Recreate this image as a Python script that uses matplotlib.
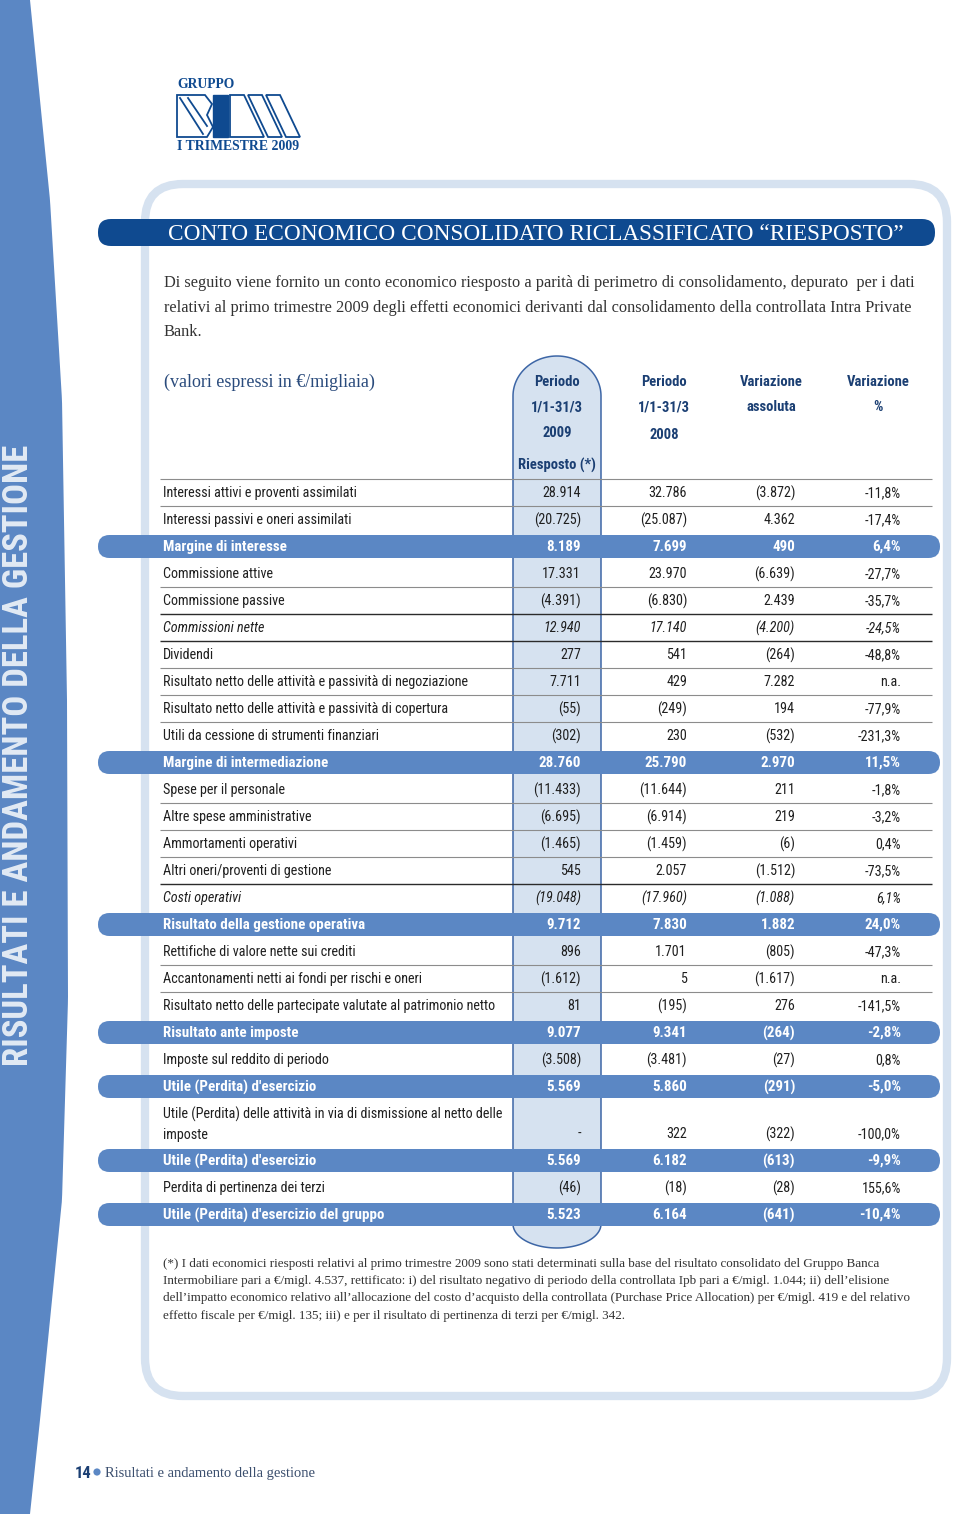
import numpy as np
import matplotlib.pyplot as plt
from matplotlib import font_manager
from matplotlib.patches import FancyBboxPatch, Polygon, Rectangle, Circle

# ---- table data (values in €/migliaia) ----
labels = [
    "Interessi attivi e proventi assimilati",
    "Interessi passivi e oneri assimilati",
    "Margine di interesse",
    "Commissione attive",
    "Commissione passive",
    "Commissioni nette",
    "Dividendi",
    "Risultato netto delle attività e passività di negoziazione",
    "Risultato netto delle attività e passività di copertura",
    "Utili da cessione di strumenti finanziari",
    "Margine di intermediazione",
    "Spese per il personale",
    "Altre spese amministrative",
    "Ammortamenti operativi",
    "Altri oneri/proventi di gestione",
    "Costi operativi",
    "Risultato della gestione operativa",
    "Rettifiche di valore nette sui crediti",
    "Accantonamenti netti ai fondi per rischi e oneri",
    "Risultato netto delle partecipate valutate al patrimonio netto",
    "Risultato ante imposte",
    "Imposte sul reddito di periodo",
    "Utile (Perdita) d'esercizio",
    "Utile (Perdita) delle attività in via di dismissione al netto delle\nimposte",
    "Utile (Perdita) d'esercizio",
    "Perdita di pertinenza dei terzi",
    "Utile (Perdita) d'esercizio del gruppo",
]
periodo_2009 = ["28.914", "(20.725)", "8.189", "17.331", "(4.391)", "12.940", "277",
                "7.711", "(55)", "(302)", "28.760", "(11.433)", "(6.695)", "(1.465)",
                "545", "(19.048)", "9.712", "896", "(1.612)", "81", "9.077", "(3.508)",
                "5.569", "-", "5.569", "(46)", "5.523"]
periodo_2008 = ["32.786", "(25.087)", "7.699", "23.970", "(6.830)", "17.140", "541",
                "429", "(249)", "230", "25.790", "(11.644)", "(6.914)", "(1.459)",
                "2.057", "(17.960)", "7.830", "1.701", "5", "(195)", "9.341", "(3.481)",
                "5.860", "322", "6.182", "(18)", "6.164"]
var_assoluta = ["(3.872)", "4.362", "490", "(6.639)", "2.439", "(4.200)", "(264)",
                "7.282", "194", "(532)", "2.970", "211", "219", "(6)",
                "(1.512)", "(1.088)", "1.882", "(805)", "(1.617)", "276", "(264)", "(27)",
                "(291)", "(322)", "(613)", "(28)", "(641)"]
var_pct = ["-11,8%", "-17,4%", "6,4%", "-27,7%", "-35,7%", "-24,5%", "-48,8%",
           "n.a.", "-77,9%", "-231,3%", "11,5%", "-1,8%", "-3,2%", "0,4%",
           "-73,5%", "6,1%", "24,0%", "-47,3%", "n.a.", "-141,5%", "-2,8%", "0,8%",
           "-5,0%", "-100,0%", "-9,9%", "155,6%", "-10,4%"]
# n = normal, h = highlighted subtotal, i = italic subtotal
row_kind = ["n", "n", "h", "n", "n", "i", "n", "n", "n", "n", "h", "n", "n", "n",
            "n", "i", "h", "n", "n", "n", "h", "n", "h", "n", "h", "n", "h"]

col_headers = [["Periodo", "1/1-31/3", "2009", "Riesposto (*)"],
               ["Periodo", "1/1-31/3", "2008"],
               ["Variazione", "assoluta"],
               ["Variazione", "%"]]

title = "CONTO ECONOMICO CONSOLIDATO RICLASSIFICATO “RIESPOSTO”"
intro = ["Di seguito viene fornito un conto economico riesposto a parità di perimetro di consolidamento, depurato  per i dati",
         "relativi al primo trimestre 2009 degli effetti economici derivanti dal consolidamento della controllata Intra Private",
         "Bank."]
note = ["(*) I dati economici riesposti relativi al primo trimestre 2009 sono stati determinati sulla base del risultato consolidato del Gruppo Banca",
        "Intermobiliare pari a €/migl. 4.537, rettificato: i) del risultato negativo di periodo della controllata Ipb pari a €/migl. 1.044; ii) dell’elisione",
        "dell’impatto economico relativo all’allocazione del costo d’acquisto della controllata (Purchase Price Allocation) per €/migl. 419 e del relativo",
        "effetto fiscale per €/migl. 135; iii) e per il risultato di pertinenza di terzi per €/migl. 342."]

# ---- colours / fonts ----
DARK = "#0f4a90"
MID = "#5b87c4"
LIGHT = "#d6e2f0"
HEAD = "#1b3f73"
SERIF = ["Liberation Serif", "DejaVu Serif"]

installed = {f.name for f in font_manager.fontManager.ttflist}
SANS = [f for f in ["Roboto Condensed", "Liberation Sans Narrow", "Roboto", "DejaVu Sans"]
        if f in installed][:1] + ["DejaVu Sans"]

W, H = 960, 1514
fig = plt.figure(figsize=(W / 100, H / 100), dpi=100)
ax = fig.add_axes([0, 0, 1, 1])
ax.set_xlim(0, W)
ax.set_ylim(H, 0)
ax.axis("off")
renderer = fig.canvas.get_renderer()


def fit_size(txt, target_w, base, **kw):
    t = ax.text(0, 0, txt, fontsize=base, **kw)
    w = t.get_window_extent(renderer).width
    t.remove()
    return base * target_w / w


# left band
ys = np.linspace(0, H, 200)
edge = np.interp(ys, [0, 200, 400, 700, 1000, 1200, 1420, 1514],
                 [30, 50, 62, 67, 68, 62, 40, 30])
band = np.vstack([np.r_[0, edge, 0], np.r_[0, ys, H]]).T
ax.add_patch(Polygon(band, closed=True, fc=MID, ec="none", zorder=1))
side = "RISULTATI E ANDAMENTO DELLA GESTIONE"
fs_side = fit_size(side, 620, 20, fontweight="bold", family=SANS)
ax.text(19, 755, side, rotation=90, ha="center", va="center", color="#e2eaf4",
        fontsize=fs_side, fontweight="bold", family=SANS, zorder=2)

# logo
ax.text(177, 85, "GRUPPO", ha="left", va="center", color=DARK, fontsize=9.8,
        fontweight="bold", family=SERIF)
ax.text(177, 146, "I TRIMESTRE 2009", ha="left", va="center", color=DARK,
        fontsize=9.9, fontweight="bold", family=SERIF)
lw_logo = 1.3
ax.add_patch(Polygon([(177, 95), (205, 95), (212, 104), (207, 115), (213, 127),
                      (207, 137), (177, 137)], closed=True, fc="none", ec=DARK, lw=lw_logo))
ax.plot([180, 203], [98, 134], color=DARK, lw=lw_logo)
ax.plot([188, 207], [98, 126], color=DARK, lw=lw_logo)
ax.add_patch(Rectangle((213, 95), 15, 42, fc=DARK, ec=DARK))
ax.add_patch(Polygon([(230, 95), (244, 95), (264, 137), (230, 137)], closed=True,
                     fc="none", ec=DARK, lw=lw_logo))
ax.add_patch(Polygon([(248, 95), (262, 95), (282, 137), (268, 137)], closed=True,
                     fc="none", ec=DARK, lw=lw_logo))
ax.add_patch(Polygon([(266, 95), (280, 95), (300, 137), (286, 137)], closed=True,
                     fc="none", ec=DARK, lw=lw_logo))

# panel
ax.add_patch(FancyBboxPatch((145, 184), 802, 1212,
                            boxstyle="round,pad=0,rounding_size=38",
                            fc="white", ec=LIGHT, lw=6, zorder=1))

# title bar
ax.add_patch(FancyBboxPatch((98, 219), 837, 27, boxstyle="round,pad=0,rounding_size=13",
                            fc=DARK, ec="none", zorder=3))
ax.text(168, 234.5, title, ha="left", va="center", color="white",
        fontsize=fit_size(title, 737, 15, family=SERIF), family=SERIF, zorder=4)

fs_intro = fit_size(intro[0], 749, 10, family=SERIF)
for i, line in enumerate(intro):
    ax.text(164, 283 + i * 24.5, line, ha="left", va="center", color="#333333",
            fontsize=fs_intro, family=SERIF, zorder=4)

ax.text(164, 382, "(valori espressi in €/migliaia)", ha="left", va="center",
        color="#2a4b7c", fontsize=13, family=SERIF, zorder=4)

# table geometry
row_h = [47 if "\n" in lab else 27 for lab in labels]
tops = 479 + np.r_[0, np.cumsum(row_h)[:-1]]
bottoms = tops + np.array(row_h)
x_label = 163
x_right = [581, 687, 795, 901]
x_center = [557, 664, 771, 878]

fs_tab = min(10.5, fit_size(labels[19], 333, 10, family=SANS))
fs_bold = min(11, fit_size(labels[2], 124, 10, family=SANS, fontweight="bold"))
fs_head = min(10.5, fit_size("Riesposto (*)", 79, 10, family=SANS, fontweight="bold"))

# highlighted column (2009)
t = np.linspace(np.pi, 0, 60)
col_top, col_bot = 396, 1224
arch_top = np.c_[557 + 44 * np.cos(t), col_top - 40 * np.sin(t)]
arch_bot = np.c_[557 - 44 * np.cos(t), col_bot + 24 * np.sin(t)]
col_shape = np.vstack([arch_top, arch_bot])
ax.add_patch(Polygon(col_shape, closed=True, fc=LIGHT, ec="#3d66a6", lw=1.1, zorder=2))

# header text
header_y = [382, 407, 433, 465]
for c, lines in enumerate(col_headers):
    for j, txt in enumerate(lines):
        y = header_y[j] + (2 if (c == 1 and j == 2) else 0)
        ax.text(x_center[c], y, txt, ha="center", va="center", color=HEAD,
                fontsize=fs_head, fontweight="bold", family=SANS, zorder=5)

# separator lines
n = len(labels)
for k in range(n + 1):
    above = row_kind[k - 1] if k > 0 else "n"
    below = row_kind[k] if k < n else "n"
    if "h" in (above, below):
        continue
    y = 479 if k == 0 else bottoms[k - 1]
    dark = "i" in (above, below)
    ax.plot([160, 932], [y, y], color="#2b2b2b" if dark else "#8c8c8c",
            lw=1.0 if dark else 0.8, zorder=3, solid_capstyle="butt")

# rows
for i, lab in enumerate(labels):
    kind = row_kind[i]
    yc = (tops[i] + bottoms[i]) / 2
    yv = bottoms[i] - 13.5
    color = "#1f1f1f"
    weight = "normal"
    style = "normal"
    fs = fs_tab
    if kind == "h":
        ax.add_patch(FancyBboxPatch((98, yc - 11.5), 842, 23,
                                    boxstyle="round,pad=0,rounding_size=11.5",
                                    fc=MID, ec="none", zorder=4))
        color = "white"
        weight = "bold"
        fs = fs_bold
    elif kind == "i":
        style = "italic"
    ax.text(x_label, yc + 0.5, lab, ha="left", va="center", color=color, fontsize=fs,
            fontweight=weight, fontstyle=style, family=SANS, zorder=5,
            linespacing=1.55)
    vals = [periodo_2009[i], periodo_2008[i], var_assoluta[i], var_pct[i]]
    for c, v in enumerate(vals):
        ax.text(x_right[c], yv + 0.5, v, ha="right", va="center", color=color,
                fontsize=fs, fontweight=weight, fontstyle=style, family=SANS,
                zorder=5)

# footnote
fs_note = fit_size(note[1], 727, 9, family=SERIF)
for i, line in enumerate(note):
    ax.text(163, 1264 + i * 17.2, line, ha="left", va="center", color="#333333",
            fontsize=fs_note, family=SERIF, zorder=4)

# page footer
ax.text(75, 1473, "14", ha="left", va="center", color=HEAD, fontsize=12,
        fontweight="bold", family=SANS)
ax.add_patch(Circle((97, 1472), 3.6, fc=MID, ec="none"))
ax.text(105, 1474, "Risultati e andamento della gestione", ha="left", va="center",
        color="#3b4f6e", fontsize=10.5, family=SERIF)

fig.savefig("out.png", dpi=100)
